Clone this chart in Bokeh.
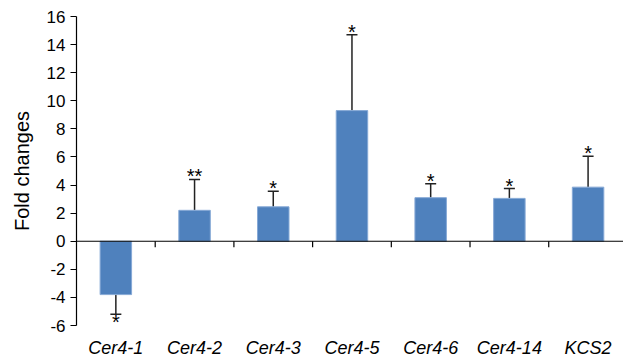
from bokeh.plotting import figure
from bokeh.models import (Range1d, FixedTicker, Whisker, TeeHead, Span,
                          ColumnDataSource, LinearAxis)
from bokeh.core.properties import value
from bokeh.embed import file_html
from bokeh.resources import INLINE

genes = ["Cer4-1", "Cer4-2", "Cer4-3", "Cer4-5", "Cer4-6", "Cer4-14", "KCS2"]
fold = [-3.8, 2.2, 2.45, 9.3, 3.1, 3.05, 3.85]
err = [1.4, 2.2, 1.1, 5.4, 1.0, 0.7, 2.2]
sig = ["*", "**", "*", "*", "*", "*", "*"]
yticks = [-6, -4, -2, 0, 2, 4, 6, 8, 10, 12, 14, 16]

FONT = "Liberation Sans"
BAR = "#4F81BD"

xpos = [i + 0.5 for i in range(len(genes))]
ends = [f + e if f >= 0 else f - e for f, e in zip(fold, err)]


def subset(cond):
    idx = [i for i, f in enumerate(fold) if cond(f)]
    return ColumnDataSource(dict(x=[xpos[i] for i in idx],
                                 top=[fold[i] for i in idx],
                                 end=[ends[i] for i in idx],
                                 sig=[sig[i] for i in idx]))


src = ColumnDataSource(dict(x=xpos, top=fold))
pos = subset(lambda f: f >= 0)
neg = subset(lambda f: f < 0)

p = figure(width=623, height=360, output_backend="svg", toolbar_location=None,
           x_range=Range1d(0, 6.95), y_range=Range1d(-6, 16),
           min_border_left=76, min_border_right=0, min_border_top=16,
           min_border_bottom=34, x_axis_location=None)
p.outline_line_color = None
p.grid.grid_line_color = None

# zero line and category boundary ticks
p.add_layout(Span(location=0, dimension="width", line_color="black", line_width=1.2))
bounds = [float(i) for i in range(1, len(genes) + 1)]
p.segment(x0=bounds, y0=[0] * len(bounds), x1=bounds, y1=[-0.42] * len(bounds),
          line_color="black", line_width=1.2)

# bars
p.vbar(x="x", top="top", bottom=0, width=0.4, source=src,
       fill_color=BAR, line_color="#86A9D6", line_width=1)

# one-sided error bars
p.add_layout(Whisker(source=pos, base="x", lower="top", upper="end",
                     dimension="height", line_color="#222222", line_width=1.5,
                     lower_head=None,
                     upper_head=TeeHead(size=11, line_color="#222222", line_width=1.5)))
p.add_layout(Whisker(source=neg, base="x", lower="end", upper="top",
                     dimension="height", line_color="#222222", line_width=1.5,
                     upper_head=None,
                     lower_head=TeeHead(size=11, line_color="#222222", line_width=1.5)))

# significance stars
p.text(x="x", y="end", text="sig", source=pos, text_align="center",
       text_baseline="alphabetic", y_offset=-3, text_font=value(FONT),
       text_font_size="20px", text_color="black")
p.text(x="x", y="end", text="sig", source=neg, text_align="center",
       text_baseline="alphabetic", y_offset=8, text_font=value(FONT),
       text_font_size="20px", text_color="black")

# y axis
ya = p.yaxis[0]
ya.ticker = FixedTicker(ticks=yticks)
ya.major_label_overrides = {t: str(t) for t in yticks}
ya.minor_tick_line_color = None
ya.major_tick_out = 6
ya.major_tick_in = 0
ya.axis_line_color = "black"
ya.axis_line_width = 1.2
ya.major_tick_line_color = "black"
ya.major_tick_line_width = 1.2
ya.major_label_text_font = FONT
ya.major_label_text_font_size = "17px"
ya.major_label_text_color = "black"
ya.major_label_standoff = 5
ya.axis_label = "Fold changes"
ya.axis_label_text_font = FONT
ya.axis_label_text_font_size = "20px"
ya.axis_label_text_font_style = "normal"
ya.axis_label_text_color = "black"
ya.axis_label_standoff = 11

# category labels axis
ca = LinearAxis(ticker=FixedTicker(ticks=xpos))
ca.major_label_overrides = {x: g for x, g in zip(xpos, genes)}
ca.axis_line_color = None
ca.major_tick_line_color = None
ca.minor_tick_line_color = None
ca.major_tick_out = 0
ca.major_tick_in = 0
ca.major_label_text_font = FONT
ca.major_label_text_font_size = "18px"
ca.major_label_text_font_style = "italic"
ca.major_label_text_color = "black"
ca.major_label_standoff = 12
p.add_layout(ca, "below")

open("out.html", "w").write(file_html(p, INLINE))
